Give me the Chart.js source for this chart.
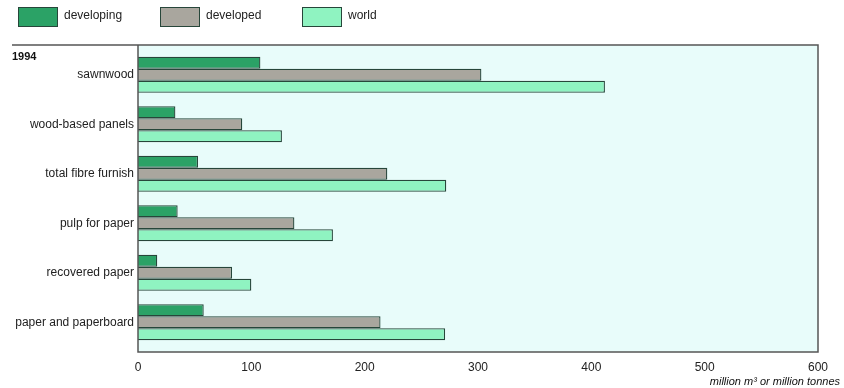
<!DOCTYPE html>
<html>
<head>
<meta charset="utf-8">
<script src="https://cdn.jsdelivr.net/npm/chart.js@4/dist/chart.umd.min.js"></script>
<style>
  html, body { margin: 0; padding: 0; background: #fff; }
  #wrap { width: 844px; height: 388px; position: relative; }
</style>
</head>
<body>
<div id="wrap"><canvas id="chart" width="844" height="388"></canvas></div>
<script>
const categories = ['sawnwood', 'wood-based panels', 'total fibre furnish', 'pulp for paper', 'recovered paper', 'paper and paperboard'];
const developing = [108, 33, 53, 35, 17, 58];
const developed = [303, 92, 220, 138, 83, 214];
const world = [412, 127, 272, 172, 100, 271];
const xTicks = [0, 100, 200, 300, 400, 500, 600];
const yearLabel = '1994';
const axisTitle = 'million m\u00b3 or million tonnes';

const FONT = '"Liberation Sans", Arial, sans-serif';
const EDGE = '#27463a';

// frame, background, legend and extra texts
const decor = {
  id: 'decor',
  beforeDatasetsDraw(chart) {
    const {ctx, chartArea: a} = chart;
    ctx.save();
    ctx.fillStyle = '#e8fcfa';
    ctx.fillRect(a.left, a.top - 5, a.right - a.left, a.bottom - a.top + 10);
    ctx.restore();
  },
  afterDraw(chart) {
    const {ctx, chartArea: a} = chart;
    ctx.save();
    ctx.strokeStyle = '#555';
    ctx.lineWidth = 1.5;
    ctx.beginPath();
    ctx.moveTo(12, a.top - 5);
    ctx.lineTo(a.right, a.top - 5);
    ctx.lineTo(a.right, a.bottom + 5);
    ctx.lineTo(a.left, a.bottom + 5);
    ctx.lineTo(a.left, a.top - 5);
    ctx.stroke();

    ctx.fillStyle = '#111';
    ctx.font = 'bold 11px ' + FONT;
    ctx.textBaseline = 'alphabetic';
    ctx.fillText(yearLabel, 12, 60);

    ctx.font = 'italic 11px ' + FONT;
    ctx.textAlign = 'right';
    ctx.fillText(axisTitle, 840, 385);

    // legend
    ctx.textAlign = 'left';
    ctx.textBaseline = 'middle';
    ctx.font = '12px ' + FONT;
    chart.data.datasets.forEach((ds, i) => {
      const x = 18 + i * 142;
      ctx.fillStyle = ds.backgroundColor;
      ctx.fillRect(x, 7, 40, 20);
      ctx.strokeStyle = EDGE;
      ctx.lineWidth = 1;
      ctx.strokeRect(x + 0.5, 7.5, 39, 19);
      ctx.fillStyle = '#222';
      ctx.fillText(ds.label, x + 46, 16);
    });
    ctx.restore();
  }
};

new Chart(document.getElementById('chart'), {
  type: 'bar',
  data: {
    labels: categories,
    datasets: [
      { label: 'developing', data: developing, backgroundColor: '#2ba266' },
      { label: 'developed', data: developed, backgroundColor: '#a9a69e' },
      { label: 'world', data: world, backgroundColor: '#8ff3c1' }
    ].map(d => Object.assign(d, { borderColor: EDGE, borderWidth: 1.3, borderSkipped: 'start' }))
  },
  options: {
    indexAxis: 'y',
    responsive: false,
    animation: false,
    layout: { padding: { top: 50, right: 26, left: 0, bottom: 0 } },
    datasets: { bar: { barPercentage: 1, categoryPercentage: 0.73 } },
    plugins: { legend: { display: false }, tooltip: { enabled: false } },
    scales: {
      x: {
        min: 0, max: 600,
        afterBuildTicks(scale) { scale.ticks = xTicks.map(v => ({ value: v })); },
        grid: { display: false, drawTicks: false },
        border: { display: false },
        ticks: { padding: 13, color: '#222', font: { family: FONT, size: 12 } },
        afterFit(scale) { scale.height = 41; }
      },
      y: {
        grid: { display: false, drawTicks: false },
        border: { display: false },
        ticks: { padding: 4, color: '#222', font: { family: FONT, size: 12 } },
        afterFit(scale) { scale.width = 138; }
      }
    }
  },
  plugins: [decor]
});
</script>
</body>
</html>
